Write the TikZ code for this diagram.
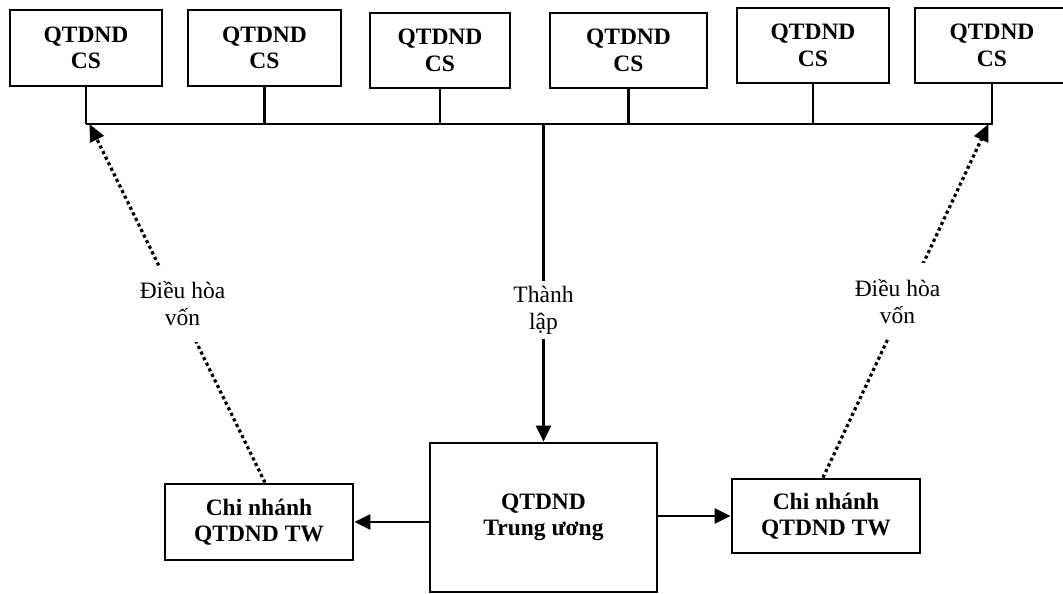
\documentclass[tikz,border=0pt]{standalone}
\usepackage{fontspec}
\setmainfont{Liberation Serif}
\usetikzlibrary{arrows.meta,calc}

\tikzset{
  unitbox/.style={draw, line width=2.8pt, align=center, font=\bfseries\fontsize{23.5}{26.5}\selectfont, inner sep=0pt},
  stem/.style={line width=2.4pt},
  flow/.style={line width=2.6pt, -{Triangle[length=16pt,width=15pt]}},
  regulate/.style={line width=3.2pt, dash pattern=on 3.2pt off 3pt, -{Triangle[length=17pt,width=15pt]}, shorten >=-1pt},
  flowlabel/.style={fill=white, align=center, font=\fontsize{23.5}{27}\selectfont},
}

\begin{document}
\begin{tikzpicture}[x=1pt, y=-1pt]
  \useasboundingbox (0,0) rectangle (1063,594);

  % local funds (top row)
  \node[unitbox, minimum width=152pt, minimum height=76pt] (t1) at (86,48)    {QTDND\\CS};
  \node[unitbox, minimum width=153pt, minimum height=76pt] (t2) at (264.5,48) {QTDND\\CS};
  \node[unitbox, minimum width=140pt, minimum height=75pt] (t3) at (440,50.5) {QTDND\\CS};
  \node[unitbox, minimum width=157pt, minimum height=75pt] (t4) at (628.5,50.5) {QTDND\\CS};
  \node[unitbox, minimum width=152pt, minimum height=75pt] (t5) at (813,45.5) {QTDND\\CS};
  \node[unitbox, minimum width=154pt, minimum height=75pt] (t6) at (992,45.5) {QTDND\\CS};

  % central fund and its branches
  \node[unitbox, minimum width=227pt, minimum height=149pt] (cb) at (543.5,517.5) {QTDND\\Trung ương};
  \node[unitbox, minimum width=188pt, minimum height=76pt] (lb) at (259,522) {Chi nhánh\\QTDND TW};
  \node[unitbox, minimum width=188pt, minimum height=74pt] (rb) at (826,516) {Chi nhánh\\QTDND TW};

  % common bus under the local funds
  \coordinate (busL) at (87,124);
  \coordinate (busR) at (992,124);
  \draw[stem, line cap=rect] (busL) -- (busR);
  \foreach \t in {t1,t2,t3,t4,t5,t6}
    \draw[stem] (\t.south) -- (\t.south |- busL);

  % establishment
  \draw[flow] (cb.north |- busL) -- node[flowlabel, pos=0.586, inner xsep=2pt, inner ysep=5pt] {Thành\\lập} (cb.north);

  % central fund to its branches
  \draw[flow] (cb.west |- lb) -- (lb.east);
  \draw[flow] (cb.east |- rb) -- (rb.west);

  % capital regulation
  \draw[regulate] ($(lb.north)+(6,0)$) -- node[flowlabel, xshift=5pt, inner xsep=2pt, inner ysep=16pt] {Điều hòa\\vốn} ($(busL)+(3,1)$);
  \draw[regulate] ($(rb.north)+(-3,0)$) -- node[flowlabel, xshift=-8pt, inner xsep=2pt, inner ysep=16pt] {Điều hòa\\vốn} ($(busR)+(-4,1)$);
\end{tikzpicture}
\end{document}
